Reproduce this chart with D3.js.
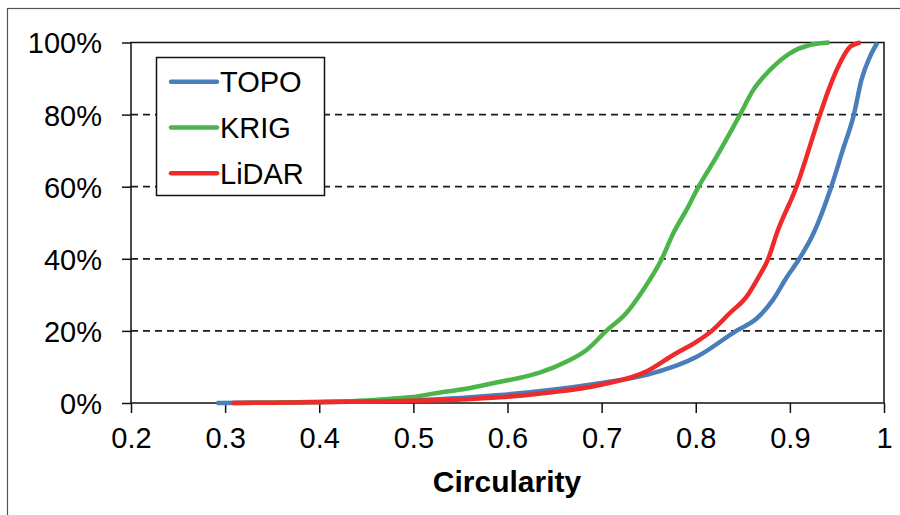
<!DOCTYPE html>
<html>
<head>
<meta charset="utf-8">
<script src="https://cdn.jsdelivr.net/npm/d3@7"></script>
<style>
  body { margin: 0; background: #fff; }
  svg { display: block; font-family: "Liberation Sans", Arial, sans-serif; }
</style>
</head>
<body>
<div id="chart"></div>
<script>
// Data (circularity, cumulative %)
const topoX = [0.291, 0.35, 0.40, 0.45, 0.50, 0.55, 0.592, 0.645, 0.698, 0.748, 0.801, 0.843, 0.865, 0.882, 0.896, 0.910, 0.925, 0.944, 0.956, 0.968, 0.976, 0.985, 0.993];
const topoY = [0, 0.1, 0.3, 0.5, 0.8, 1.4, 2.2, 3.6, 5.5, 7.8, 12.8, 20, 23.5, 28.6, 34.6, 40, 47, 60, 70, 80, 89.6, 96, 100];

const krigX = [0.31, 0.35, 0.40, 0.45, 0.486, 0.50, 0.521, 0.557, 0.592, 0.61, 0.634, 0.663, 0.684, 0.705, 0.726, 0.744, 0.764, 0.776, 0.790, 0.803, 0.822, 0.838, 0.847, 0.861, 0.879, 0.900, 0.921, 0.942];
const krigY = [0, 0.1, 0.3, 0.7, 1.4, 1.7, 2.6, 4.0, 5.9, 6.8, 8.4, 11.5, 14.7, 20, 24.9, 31.3, 40, 47, 53.5, 60, 68.3, 75.7, 80, 86.8, 92.4, 97, 99.3, 100];

const lidarX = [0.307, 0.35, 0.40, 0.45, 0.50, 0.55, 0.592, 0.645, 0.698, 0.748, 0.776, 0.801, 0.817, 0.836, 0.854, 0.866, 0.877, 0.886, 0.907, 0.932, 0.941, 0.953, 0.964, 0.975];
const lidarY = [0, 0.1, 0.2, 0.4, 0.6, 1.0, 1.6, 2.9, 5.0, 8.8, 13.3, 17, 20, 24.9, 29.5, 34.6, 40, 47, 60, 80, 86.8, 94.2, 98.8, 100];

const xTicks = [0.2, 0.3, 0.4, 0.5, 0.6, 0.7, 0.8, 0.9, 1];
const yTicks = [0, 20, 40, 60, 80, 100];

// draw order: TOPO under KRIG under LiDAR
const series = [
  { name: "TOPO", color: "#4a7ebb", xs: topoX, ys: topoY },
  { name: "KRIG", color: "#4bb54a", xs: krigX, ys: krigY },
  { name: "LiDAR", color: "#ee2a2a", xs: lidarX, ys: lidarY }
];

const W = 900, H = 515;
const margin = { top: 42.5, right: 16, bottom: 112, left: 131 };
const width = W - margin.left - margin.right;
const height = H - margin.top - margin.bottom;

const svg = d3.select("#chart")
  .append("svg")
  .attr("width", W)
  .attr("height", H);

// outer frame (only left/top visible)
svg.append("rect")
  .attr("x", 7.5).attr("y", 8.5)
  .attr("width", W + 20).attr("height", H + 20)
  .attr("fill", "none")
  .attr("stroke", "#555")
  .attr("stroke-width", 1.2);

const chart = svg.append("g")
  .attr("transform", `translate(${margin.left},${margin.top})`);

const xScale = d3.scaleLinear().domain([0.2, 1]).range([0, width]);
const yScale = d3.scaleLinear().domain([0, 100]).range([height, 0]);

// dashed gridlines
chart.append("g")
  .selectAll("line")
  .data(yTicks.filter(t => t > 0 && t < 100))
  .join("line")
  .attr("x1", 0).attr("x2", width)
  .attr("y1", d => yScale(d)).attr("y2", d => yScale(d))
  .attr("stroke", "#1a1a1a")
  .attr("stroke-width", 1.8)
  .attr("stroke-dasharray", "7,5");

// axes
const xAxis = chart.append("g")
  .attr("transform", `translate(0,${height})`)
  .call(d3.axisBottom(xScale).tickValues(xTicks).tickFormat(d => d === 1 ? "1" : d3.format(".1f")(d)).tickSize(10).tickPadding(14));

const yAxis = chart.append("g")
  .call(d3.axisLeft(yScale).tickValues(yTicks).tickFormat(d => d + "%").tickSize(9).tickPadding(20));

[xAxis, yAxis].forEach(a => {
  a.select(".domain").remove();
  a.selectAll("line").attr("stroke", "#111").attr("stroke-width", 1.5);
  a.selectAll("text").attr("font-size", 29).attr("fill", "#000");
});
yAxis.selectAll("text").attr("dy", "0.36em");

// plot border
chart.append("rect")
  .attr("width", width).attr("height", height)
  .attr("fill", "none")
  .attr("stroke", "#111")
  .attr("stroke-width", 1.5);

// curves
const line = d3.line()
  .x(d => xScale(d[0]))
  .y(d => yScale(d[1]))
  .curve(d3.curveMonotoneX);

series.forEach(s => {
  chart.append("path")
    .datum(s.xs.map((x, i) => [x, s.ys[i]]))
    .attr("fill", "none")
    .attr("stroke", s.color)
    .attr("stroke-width", 4.5)
    .attr("stroke-linejoin", "round")
    .attr("d", line);
});

// axis title
svg.append("text")
  .attr("x", 507).attr("y", 492)
  .attr("text-anchor", "middle")
  .attr("font-size", 30)
  .attr("font-weight", "bold")
  .text("Circularity");

// legend
const legend = svg.append("g");
legend.append("rect")
  .attr("x", 156.5).attr("y", 57.5)
  .attr("width", 168).attr("height", 138)
  .attr("fill", "#fff")
  .attr("stroke", "#111")
  .attr("stroke-width", 1.5);

series.forEach((s, i) => {
  const y = 81.7 + i * 45.8;
  legend.append("line")
    .attr("x1", 171).attr("x2", 217)
    .attr("y1", y).attr("y2", y)
    .attr("stroke", s.color)
    .attr("stroke-width", 4.5)
    .attr("stroke-linecap", "round");
  legend.append("text")
    .attr("x", 220).attr("y", y)
    .attr("dy", "0.36em")
    .attr("font-size", 29)
    .text(s.name);
});
</script>
</body>
</html>
